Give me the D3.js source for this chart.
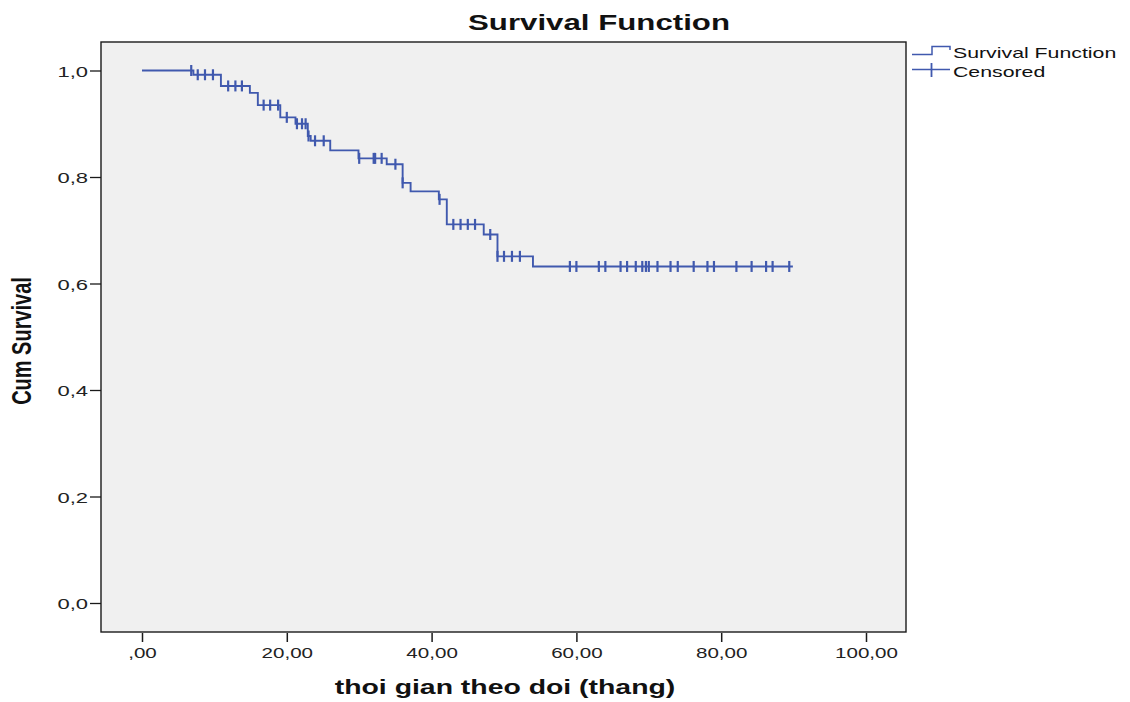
<!DOCTYPE html>
<html>
<head>
<meta charset="utf-8">
<script src="https://cdn.jsdelivr.net/npm/d3@7"></script>
<style>
  html, body { margin: 0; padding: 0; background: #ffffff; }
  svg { display: block; font-family: Arial, "Liberation Sans", sans-serif; }
</style>
</head>
<body>
<svg id="chart" width="1130" height="702"></svg>
<script>
// Kaplan-Meier estimate: times (months) where the curve steps down, and the level after each step
const eventTimes = [7.1, 10.9, 14.9, 16.0, 19.1, 21.2, 22.9, 23.3, 26.0, 29.9, 33.8, 36.0, 37.1, 41.0, 42.1, 47.2, 49.1, 54.0];
const survival   = [0.992, 0.971, 0.958, 0.935, 0.912, 0.900, 0.877, 0.868, 0.850, 0.835, 0.824, 0.789, 0.773, 0.758, 0.711, 0.692, 0.651, 0.632];
// Censored follow-up times (months)
const censorTimes = [6.8, 7.7, 8.7, 9.8, 11.9, 12.9, 13.8, 16.8, 17.7, 18.8, 20.0, 21.4, 22.1, 22.6, 23.0,
  23.9, 25.1, 30.0, 32.0, 32.2, 33.1, 35.0, 36.0, 41.1, 43.0, 44.0, 45.0, 46.0, 48.1, 49.1, 50.0, 51.1, 52.2,
  59.1, 60.0, 63.1, 64.0, 66.1, 67.0, 68.2, 69.1, 69.6, 70.0, 71.2, 73.0, 74.0, 76.2, 78.1, 79.0,
  82.1, 84.2, 86.2, 87.1, 89.4];
const lastTime = 89.9;

const xTicks = [0, 20, 40, 60, 80, 100];
const xTickLabels = [",00", "20,00", "40,00", "60,00", "80,00", "100,00"];
const yTicks = [0, 0.2, 0.4, 0.6, 0.8, 1.0];
const yTickLabels = ["0,0", "0,2", "0,4", "0,6", "0,8", "1,0"];

const titleText = "Survival Function";
const xTitle = "thoi gian theo doi (thang)";
const yTitle = "Cum Survival";
const legendLabels = ["Survival Function", "Censored"];

// ---- layout ----
const W = 1130, H = 702;
const frame = { left: 101, top: 42, right: 906, bottom: 632 };
const stretch = 1.42;           // wide glyph rendering of this output style
const blue = "#4059AE";

const svg = d3.select("#chart");

const x = d3.scaleLinear().domain([0, 100]).range([142, 866]);
const y = d3.scaleLinear().domain([0, 1]).range([603, 70.5]);

// plot background and frame
svg.append("rect")
  .attr("x", frame.left).attr("y", frame.top)
  .attr("width", frame.right - frame.left).attr("height", frame.bottom - frame.top)
  .attr("fill", "#f0f0f0").attr("stroke", "#1a1a1a").attr("stroke-width", 1.4);

// axes
const yAxis = d3.axisLeft(y).tickValues(yTicks).tickSize(11).tickSizeOuter(0)
  .tickFormat((d, i) => yTickLabels[i]);
const gy = svg.append("g").attr("transform", `translate(${frame.left},0)`).call(yAxis);
gy.select(".domain").remove();
gy.selectAll(".tick line").attr("stroke", "#1a1a1a").attr("stroke-width", 1.3);
gy.selectAll(".tick text")
  .attr("x", 0).attr("dy", null)
  .attr("transform", `translate(-13,5.5) scale(${stretch},1)`)
  .attr("font-size", 15.5).attr("fill", "#222").attr("font-family", "Arial, 'Liberation Sans', sans-serif");

const xAxis = d3.axisBottom(x).tickValues(xTicks).tickSize(9).tickSizeOuter(0)
  .tickFormat((d, i) => xTickLabels[i]);
const gx = svg.append("g").attr("transform", `translate(0,${frame.bottom + 1})`).call(xAxis);
gx.select(".domain").remove();
gx.selectAll(".tick line").attr("stroke", "#1a1a1a").attr("stroke-width", 1.5);
gx.selectAll(".tick text")
  .attr("y", 0).attr("dy", null)
  .attr("transform", `translate(0,24.5) scale(${stretch},1)`)
  .attr("font-size", 14.5).attr("fill", "#222").attr("font-family", "Arial, 'Liberation Sans', sans-serif");

// step curve
const pts = [[0, 1]];
eventTimes.forEach((t, i) => pts.push([t, survival[i]]));
pts.push([lastTime, survival[survival.length - 1]]);

const line = d3.line().x(d => x(d[0])).y(d => y(d[1])).curve(d3.curveStepAfter);
svg.append("path").datum(pts)
  .attr("d", line).attr("fill", "none")
  .attr("stroke", blue).attr("stroke-width", 1.9);

// level of the estimate at a given time
function levelAt(t) {
  let s = 1;
  eventTimes.forEach((e, i) => { if (e <= t) s = survival[i]; });
  return s;
}

// censor marks
svg.append("g").selectAll("line").data(censorTimes).join("line")
  .attr("x1", d => x(d)).attr("x2", d => x(d))
  .attr("y1", d => y(levelAt(d)) - 5.5).attr("y2", d => y(levelAt(d)) + 5.5)
  .attr("stroke", blue).attr("stroke-width", 2.2);

// title
svg.append("text")
  .attr("transform", `translate(599,30) scale(${stretch},1)`)
  .attr("text-anchor", "middle").attr("font-size", 22).attr("font-weight", "bold")
  .attr("fill", "#111").text(titleText);

// axis titles
svg.append("text")
  .attr("transform", `translate(505,694) scale(${stretch},1)`)
  .attr("text-anchor", "middle").attr("font-size", 20).attr("font-weight", "bold")
  .attr("fill", "#111").text(xTitle);

svg.append("text")
  .attr("transform", `translate(31,341) scale(${stretch},1) rotate(-90)`)
  .attr("text-anchor", "middle").attr("font-size", 20).attr("font-weight", "bold")
  .attr("fill", "#111").text(yTitle);

// legend
const lg = svg.append("g");
lg.append("path")
  .attr("d", `M912,54.5 H932 V46.5 H950 V50`)
  .attr("fill", "none").attr("stroke", blue).attr("stroke-width", 1.5);
lg.append("line").attr("x1", 912).attr("x2", 950).attr("y1", 69.5).attr("y2", 69.5)
  .attr("stroke", blue).attr("stroke-width", 1.5);
lg.append("line").attr("x1", 931.5).attr("x2", 931.5).attr("y1", 63).attr("y2", 77)
  .attr("stroke", blue).attr("stroke-width", 1.8);
lg.selectAll("text.lab").data(legendLabels).join("text")
  .attr("class", "lab")
  .attr("transform", (d, i) => `translate(953,${57.5 + i * 19}) scale(${stretch},1)`)
  .attr("font-size", 15).attr("fill", "#111").text(d => d);
</script>
</body>
</html>
